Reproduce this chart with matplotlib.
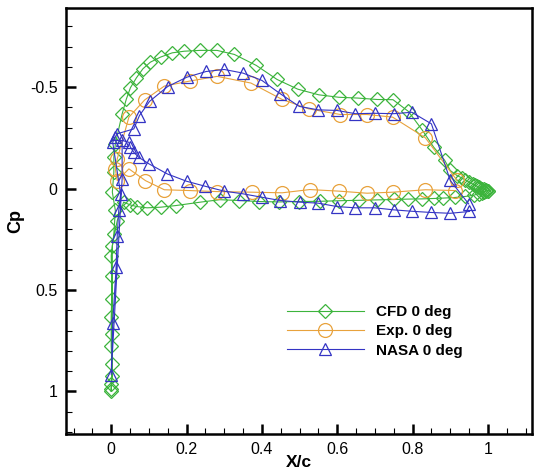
import matplotlib
matplotlib.use('Agg')
import matplotlib.pyplot as plt
from matplotlib.ticker import MultipleLocator

plt.rcParams['font.family'] = ['Liberation Sans', 'DejaVu Sans']

# CFD 0 deg: upper surface TE -> LE, down the stagnation line, back up, lower surface LE -> TE
cfd_x = [1.0, 0.995, 0.99, 0.985, 0.98, 0.975, 0.97, 0.965, 0.96, 0.95, 0.94, 0.931, 0.918,
         0.9, 0.885, 0.856, 0.825,
         0.789, 0.748, 0.706, 0.655, 0.604, 0.551, 0.495, 0.44, 0.385, 0.327, 0.281, 0.235,
         0.194, 0.162, 0.131, 0.104, 0.084, 0.067, 0.051, 0.04, 0.029, 0.011, 0.007, 0.007,
         0.003,
         0.011, 0.007, 0.0, 0.003, 0.003, 0.003, 0.0, 0.0,
         0.0, 0.003, 0.0, 0.0, 0.003, 0.003, 0.016,
         0.033, 0.051, 0.069, 0.095, 0.131, 0.171, 0.237, 0.288, 0.339, 0.392, 0.445, 0.498,
         0.553, 0.606, 0.657, 0.706, 0.75, 0.788, 0.825, 0.856, 0.882, 0.913, 0.94, 0.962,
         0.975, 0.985, 0.99, 0.995, 1.0]
cfd_cp = [0.01, 0.007, 0.004, 0.0, -0.003, -0.007, -0.012, -0.017, -0.022, -0.032, -0.042,
          -0.052, -0.064, -0.089, -0.14,
          -0.204, -0.29, -0.38, -0.438, -0.439, -0.446, -0.45, -0.462, -0.49, -0.538, -0.607,
          -0.661, -0.681, -0.681, -0.677, -0.669, -0.648, -0.623, -0.59, -0.546, -0.497, -0.44,
          -0.368, -0.22, -0.154, -0.08, 0.018,
          0.108, 0.224, 0.331, 0.544, 0.717, 0.865, 0.963, 1.0,
          0.99, 0.922, 0.775, 0.635, 0.429, 0.281, 0.158,
          0.067, 0.081, 0.089, 0.095, 0.092, 0.084, 0.067, 0.055, 0.059, 0.064, 0.066, 0.064,
          0.063, 0.06, 0.058, 0.056, 0.054, 0.052, 0.051, 0.049, 0.047, 0.044, 0.039, 0.033,
          0.026, 0.02, 0.017, 0.013, 0.01]

# Exp. 0 deg
exp_x = [0.918, 0.834, 0.747, 0.679, 0.608, 0.524, 0.454, 0.371, 0.281, 0.209, 0.141, 0.089,
         0.047, 0.016, 0.011, 0.016, 0.047, 0.091, 0.141, 0.209, 0.281, 0.374, 0.454, 0.527,
         0.606, 0.679, 0.747, 0.834, 0.913]
exp_cp = [-0.04, -0.25, -0.352, -0.365, -0.365, -0.393, -0.439, -0.52, -0.553, -0.53, -0.505,
          -0.437, -0.352, -0.146, -0.097, -0.039, -0.097, -0.039, 0.006, 0.01, 0.015, 0.018,
          0.021, 0.005, 0.013, 0.023, 0.018, 0.006, 0.01]

# NASA 0 deg
nasa_x = [0.949, 0.9, 0.85, 0.798, 0.75, 0.699, 0.648, 0.599, 0.549, 0.499, 0.449, 0.4, 0.35,
          0.3, 0.252, 0.201, 0.15, 0.102, 0.075, 0.06, 0.016, 0.01, 0.004,
          0.025, 0.02, 0.016, 0.013, 0.004, 0.0,
          0.029, 0.029, 0.047, 0.051, 0.06, 0.073, 0.1, 0.149, 0.2, 0.25, 0.3, 0.35, 0.4,
          0.449, 0.5, 0.549, 0.6, 0.648, 0.699, 0.75, 0.798, 0.85, 0.9, 0.951]
nasa_cp = [0.076, -0.04, -0.319, -0.376, -0.369, -0.371, -0.369, -0.385, -0.388, -0.405,
           -0.467, -0.533, -0.569, -0.587, -0.577, -0.549, -0.503, -0.43, -0.36, -0.294,
           -0.27, -0.253, -0.228,
           0.026, 0.108, 0.232, 0.388, 0.664, 0.917,
           -0.048, -0.237, -0.228, -0.204, -0.179, -0.154, -0.122, -0.072, -0.036, -0.011,
           0.013, 0.026, 0.043, 0.059, 0.067, 0.072, 0.089, 0.095, 0.095, 0.105, 0.112,
           0.118, 0.122, 0.113]

green = '#3cb43c'
orange = '#e8a23c'
blue = '#3434c4'

fig = plt.figure(figsize=(5.34, 4.74), dpi=100)
ax = fig.add_axes([66 / 534, 1 - 434 / 474, 466 / 534, 426 / 474])

ax.plot(cfd_x, cfd_cp, color=green, lw=0.8, marker='D', ms=7.5, mfc='none', mec=green,
        mew=0.9, label='CFD 0 deg')
ax.plot(exp_x, exp_cp, color=orange, lw=0.8, marker='o', ms=10, mfc='none', mec=orange,
        mew=0.9, label='Exp. 0 deg')
ax.plot(nasa_x, nasa_cp, color=blue, lw=0.8, marker='^', ms=8.5, mfc='none', mec=blue,
        mew=0.9, label='NASA 0 deg')

ax.set_xlim(-0.12, 1.117)
ax.set_ylim(1.21, -0.89)
ax.xaxis.set_minor_locator(MultipleLocator(0.05))
ax.yaxis.set_minor_locator(MultipleLocator(0.1))
ax.set_xticks([0, 0.2, 0.4, 0.6, 0.8, 1.0])
ax.set_xticklabels(['0', '0.2', '0.4', '0.6', '0.8', '1'])
ax.set_yticks([-0.5, 0, 0.5, 1.0])
ax.set_yticklabels(['-0.5', '0', '0.5', '1'])
ax.tick_params(which='major', direction='in', length=7, width=1.8, labelsize=11.5, pad=6)
ax.tick_params(which='minor', direction='in', length=4, width=0.8)
for s in ax.spines.values():
    s.set_linewidth(1.8)

ax.set_xlabel('X/c', fontsize=12.5, fontweight='bold', labelpad=-1.5)
ax.set_ylabel('Cp', fontsize=13, fontweight='bold', labelpad=4)

ax.legend(loc='upper left', bbox_to_anchor=(0.445, 0.335), frameon=False,
          prop={'weight': 'bold', 'size': 11}, handlelength=5.0, handletextpad=0.8,
          labelspacing=0.35, numpoints=1)

fig.savefig('out.png', dpi=100)
